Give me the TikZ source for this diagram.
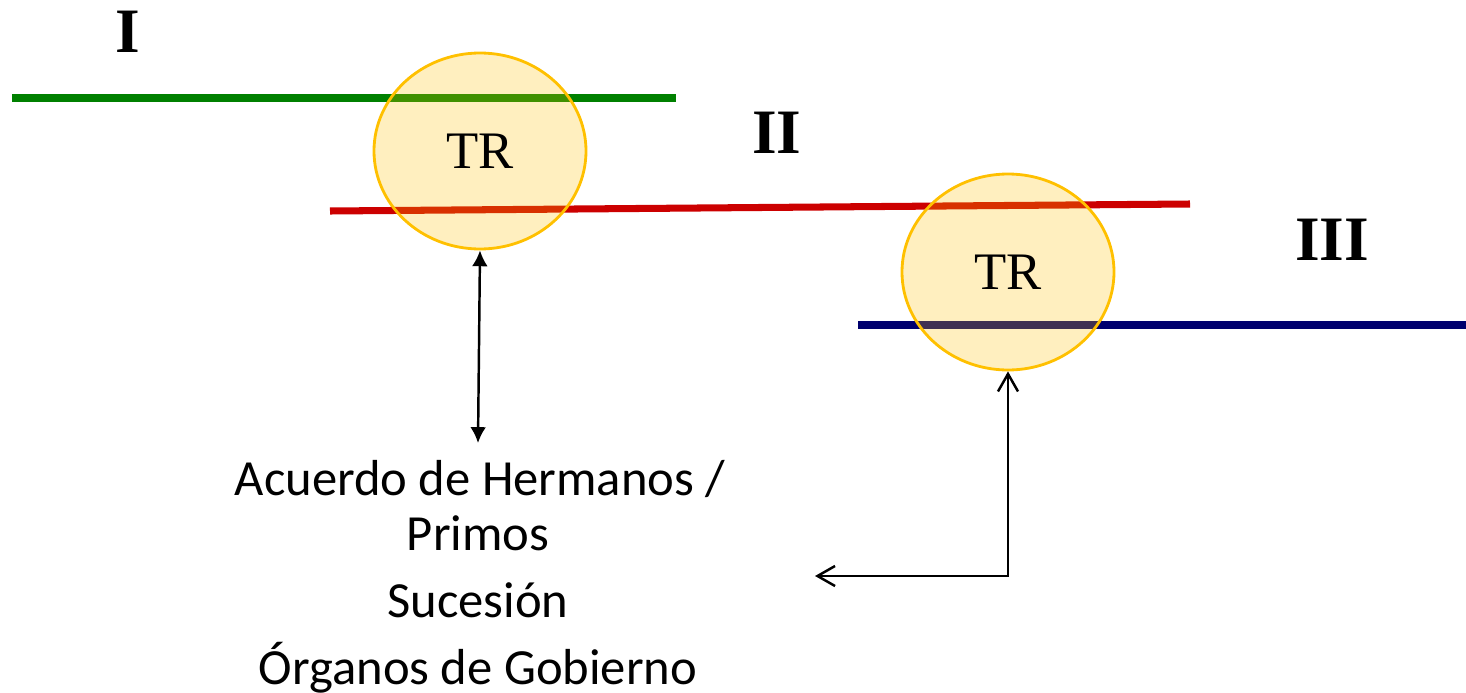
\documentclass[tikz,border=0pt]{standalone}
\usepackage{fontspec}
\setmainfont{Liberation Serif}
\newfontfamily\calfont{Carlito}
\usetikzlibrary{arrows.meta,shapes.geometric}
\definecolor{lvgreen}{RGB}{0,128,0}
\definecolor{lvred}{RGB}{204,0,0}
\definecolor{lvnavy}{RGB}{0,0,110}
\definecolor{trgold}{RGB}{255,192,0}
\begin{document}
\begin{tikzpicture}[>={Latex[length=4.5pt,width=4.5pt]},
    level/.style={line width=2pt},
    trbox/.style={ellipse, draw=trgold, line width=0.8pt, fill=trgold, fill opacity=0.25, text opacity=1,
        minimum width=2.12cm, minimum height=1.96cm, inner sep=0pt, font=\fontsize{15}{18}\selectfont},
    gen/.style={font=\bfseries\fontsize{18}{21}\selectfont},
    topic/.style={anchor=base, font=\calfont\fontsize{14.4}{17}\selectfont}]
\useasboundingbox (0,0) rectangle (14.66,6.92);
% generaciones
\draw[level, lvgreen] (0.12,5.94)--(6.76,5.94);
\draw[level, lvred] (3.30,4.81)--(11.90,4.88);
\draw[level, lvnavy] (8.58,3.67)--(14.66,3.67);
\node[gen] (g1) at (1.28,6.60) {I};
\node[gen] (g2) at (7.77,5.59) {II};
\node[gen] (g3) at (13.32,4.52) {III};
% transiciones
\node[trbox] (tr1) at (4.80,5.41) {TR};
\node[trbox] (tr2) at (10.08,4.20) {TR};
% temas
\node[topic] (acuerdo) at (4.80,1.97) {Acuerdo de Hermanos /};
\node[topic] (primos) at (4.78,1.42) {Primos};
\node[topic] (sucesion) at (4.78,0.75) {Sucesión};
\node[topic] (organos) at (4.78,0.08) {Órganos de Gobierno};
\coordinate (a1) at (4.78,2.49);
\coordinate (a2) at (8.15,1.16);
\draw[<->, line width=0.7pt] (tr1.south)--(a1);
\draw[<->, >={Straight Barb[length=5pt,width=5.7pt]}, line width=0.7pt] (a2)-|(tr2.south);
\end{tikzpicture}
\end{document}
